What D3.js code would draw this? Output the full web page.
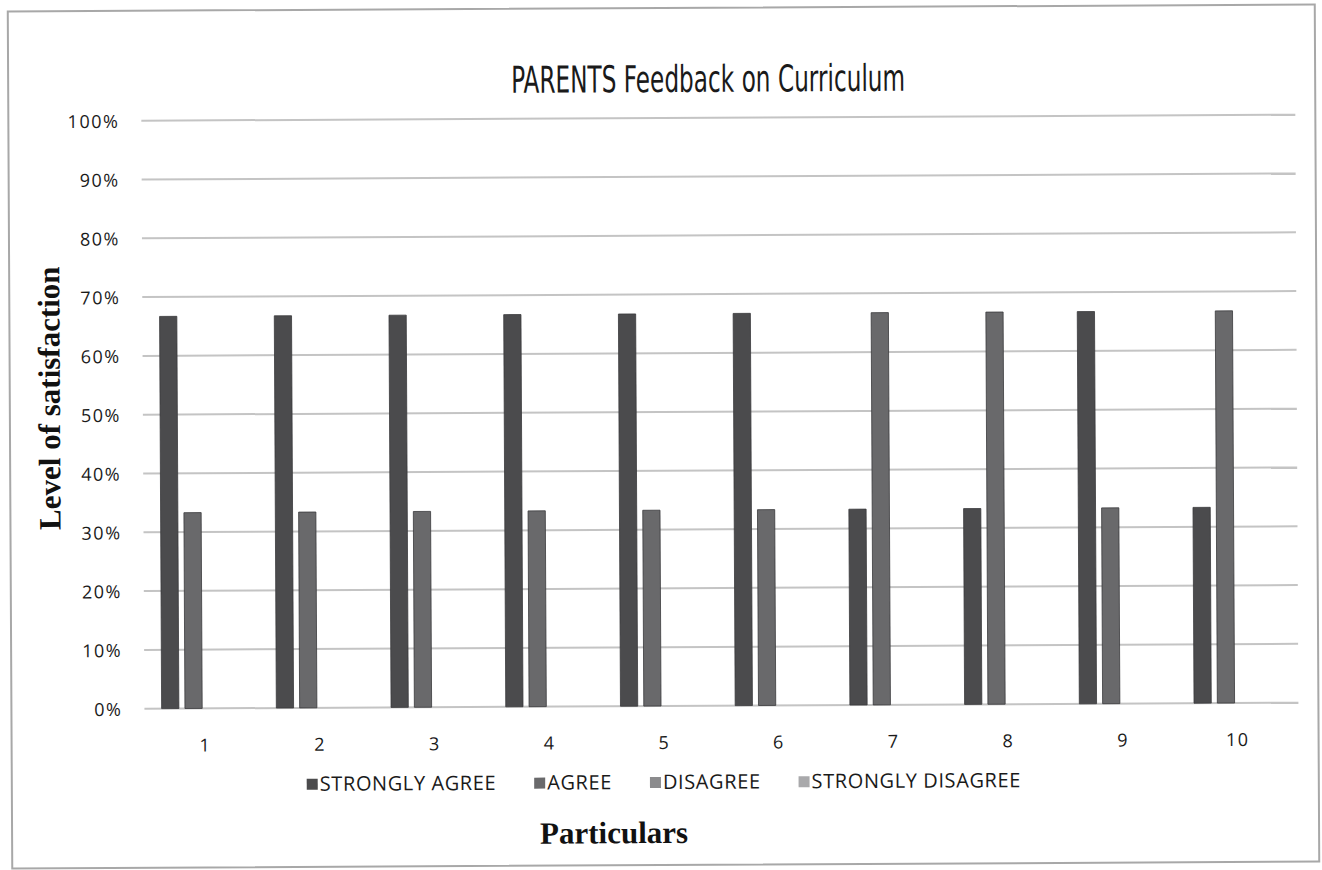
<!DOCTYPE html>
<html lang="en">
<head>
<meta charset="UTF-8">
<title>PARENTS Feedback on Curriculum</title>
<script src="https://d3js.org/d3.v7.min.js" charset="utf-8"></script>
<style>
  body { margin: 0; background: white; }
  .grid line { stroke: #c4c4c4; stroke-width: 2px; }
  .tick-y, .tick-x { font-family: "Open Sans", sans-serif; font-size: 18px; fill: #1a1a1a; letter-spacing: 1.5px; }
  .legend text { font-family: "Open Sans", sans-serif; font-size: 20px; fill: #1a1a1a; letter-spacing: 0.6px; }
  .axis-title { font-family: "Liberation Serif", "Times New Roman", serif; font-weight: bold; font-size: 31px; fill: #111; }
  .chart-title { font-family: "Liberation Sans Narrow", "DejaVu Sans Condensed", sans-serif; font-size: 37px; fill: #1a1a1a; }
</style>
</head>
<body>
<svg id="chart" width="1322" height="870"></svg>
<script>
  // data
  var categories = ["1", "2", "3", "4", "5", "6", "7", "8", "9", "10"];
  var seriesNames = ["STRONGLY AGREE", "AGREE", "DISAGREE", "STRONGLY DISAGREE"];
  var stronglyAgree = [66.7, 66.7, 66.7, 66.7, 66.7, 66.7, 33.3, 33.3, 66.7, 33.3];
  var agree = [33.3, 33.3, 33.3, 33.3, 33.3, 33.3, 66.7, 66.7, 33.3, 66.7];
  var disagree = [0, 0, 0, 0, 0, 0, 0, 0, 0, 0];
  var stronglyDisagree = [0, 0, 0, 0, 0, 0, 0, 0, 0, 0];
  var yTicks = [0, 10, 20, 30, 40, 50, 60, 70, 80, 90, 100];

  var colors = ["#4b4b4d", "#69696b", "#8b8b8d", "#a9a9ab"];
  var allSeries = [stronglyAgree, agree, disagree, stronglyDisagree];

  var svg = d3.select("#chart");
  // the scan is tilted a little, so everything sits in a slightly rotated group
  var root = svg.append("g").attr("transform", "rotate(-0.3,661,435)");

  root.append("rect")
    .attr("x", 10).attr("y", 8).attr("width", 1307).attr("height", 857)
    .style("fill", "white").style("stroke", "#a8a8a8").style("stroke-width", 2);

  var plotLeft = 143, plotRight = 1297, plotTop = 118, plotBottom = 706;

  var x0 = d3.scaleBand()
    .domain(categories)
    .range([plotLeft, plotRight])
    .paddingInner(0.24)
    .paddingOuter(0.15);

  var x1 = d3.scaleBand()
    .domain(seriesNames)
    .range([0, x0.bandwidth()])
    .paddingInner(0.26);

  var y = d3.scaleLinear().domain([0, 100]).range([plotBottom, plotTop]);

  // gridlines
  root.append("g").attr("class", "grid")
    .selectAll("line")
    .data(yTicks)
    .enter().append("line")
    .attr("x1", plotLeft).attr("x2", plotRight)
    .attr("y1", function(d) { return y(d); })
    .attr("y2", function(d) { return y(d); });

  // y tick labels
  root.append("g")
    .selectAll("text")
    .data(yTicks)
    .enter().append("text")
    .attr("class", "tick-y")
    .attr("x", 121)
    .attr("y", function(d) { return y(d) + 7; })
    .attr("text-anchor", "end")
    .text(function(d) { return d + "%"; });

  // bars
  var rows = categories.map(function(c, i) {
    return seriesNames.map(function(s, j) { return { cat: c, key: s, idx: j, value: allSeries[j][i] }; });
  });

  root.append("g")
    .selectAll("g")
    .data(rows)
    .enter().append("g")
    .attr("transform", function(d) { return "translate(" + x0(d[0].cat) + ",0)"; })
    .selectAll("rect")
    .data(function(d) { return d.filter(function(b) { return b.value > 0; }); })
    .enter().append("rect")
    .attr("x", function(d) { return x1(d.key); })
    .attr("width", x1.bandwidth())
    .attr("y", function(d) { return y(d.value); })
    .attr("height", function(d) { return y(0) - y(d.value); })
    .style("fill", function(d) { return colors[d.idx]; })
    .style("stroke", "#3a3a3c")
    .style("stroke-width", 0.8);

  // category labels
  root.append("g")
    .selectAll("text")
    .data(categories)
    .enter().append("text")
    .attr("class", "tick-x")
    .attr("x", function(d) { return x0(d) + x0.bandwidth() / 2; })
    .attr("y", 749)
    .attr("text-anchor", "middle")
    .text(function(d) { return d; });

  // title
  root.append("text")
    .attr("class", "chart-title")
    .attr("x", 710).attr("y", 92)
    .attr("text-anchor", "middle")
    .attr("textLength", 394)
    .attr("lengthAdjust", "spacingAndGlyphs")
    .text("PARENTS Feedback on Curriculum");

  // axis titles
  root.append("text")
    .attr("class", "axis-title")
    .attr("transform", "translate(60,395) rotate(-90)")
    .attr("text-anchor", "middle")
    .text("Level of satisfaction");

  root.append("text")
    .attr("class", "axis-title")
    .attr("x", 612).attr("y", 843)
    .attr("text-anchor", "middle")
    .text("Particulars");

  // legend
  var legend = root.append("g").attr("class", "legend");
  var lx = 0;
  var items = legend.selectAll("g")
    .data(seriesNames)
    .enter().append("g");
  items.append("rect")
    .attr("width", 11).attr("height", 11)
    .attr("y", -12)
    .style("fill", function(d, i) { return colors[i]; });
  items.append("text")
    .attr("x", 13)
    .text(function(d) { return d; });
  items.each(function() {
    var g = d3.select(this);
    g.attr("transform", "translate(" + lx + ",0)");
    lx += 13 + g.select("text").node().getComputedTextLength() + 38;
  });
  lx -= 38;
  legend.attr("transform", "translate(" + (662 - lx / 2) + ",789)");
</script>
</body>
</html>
